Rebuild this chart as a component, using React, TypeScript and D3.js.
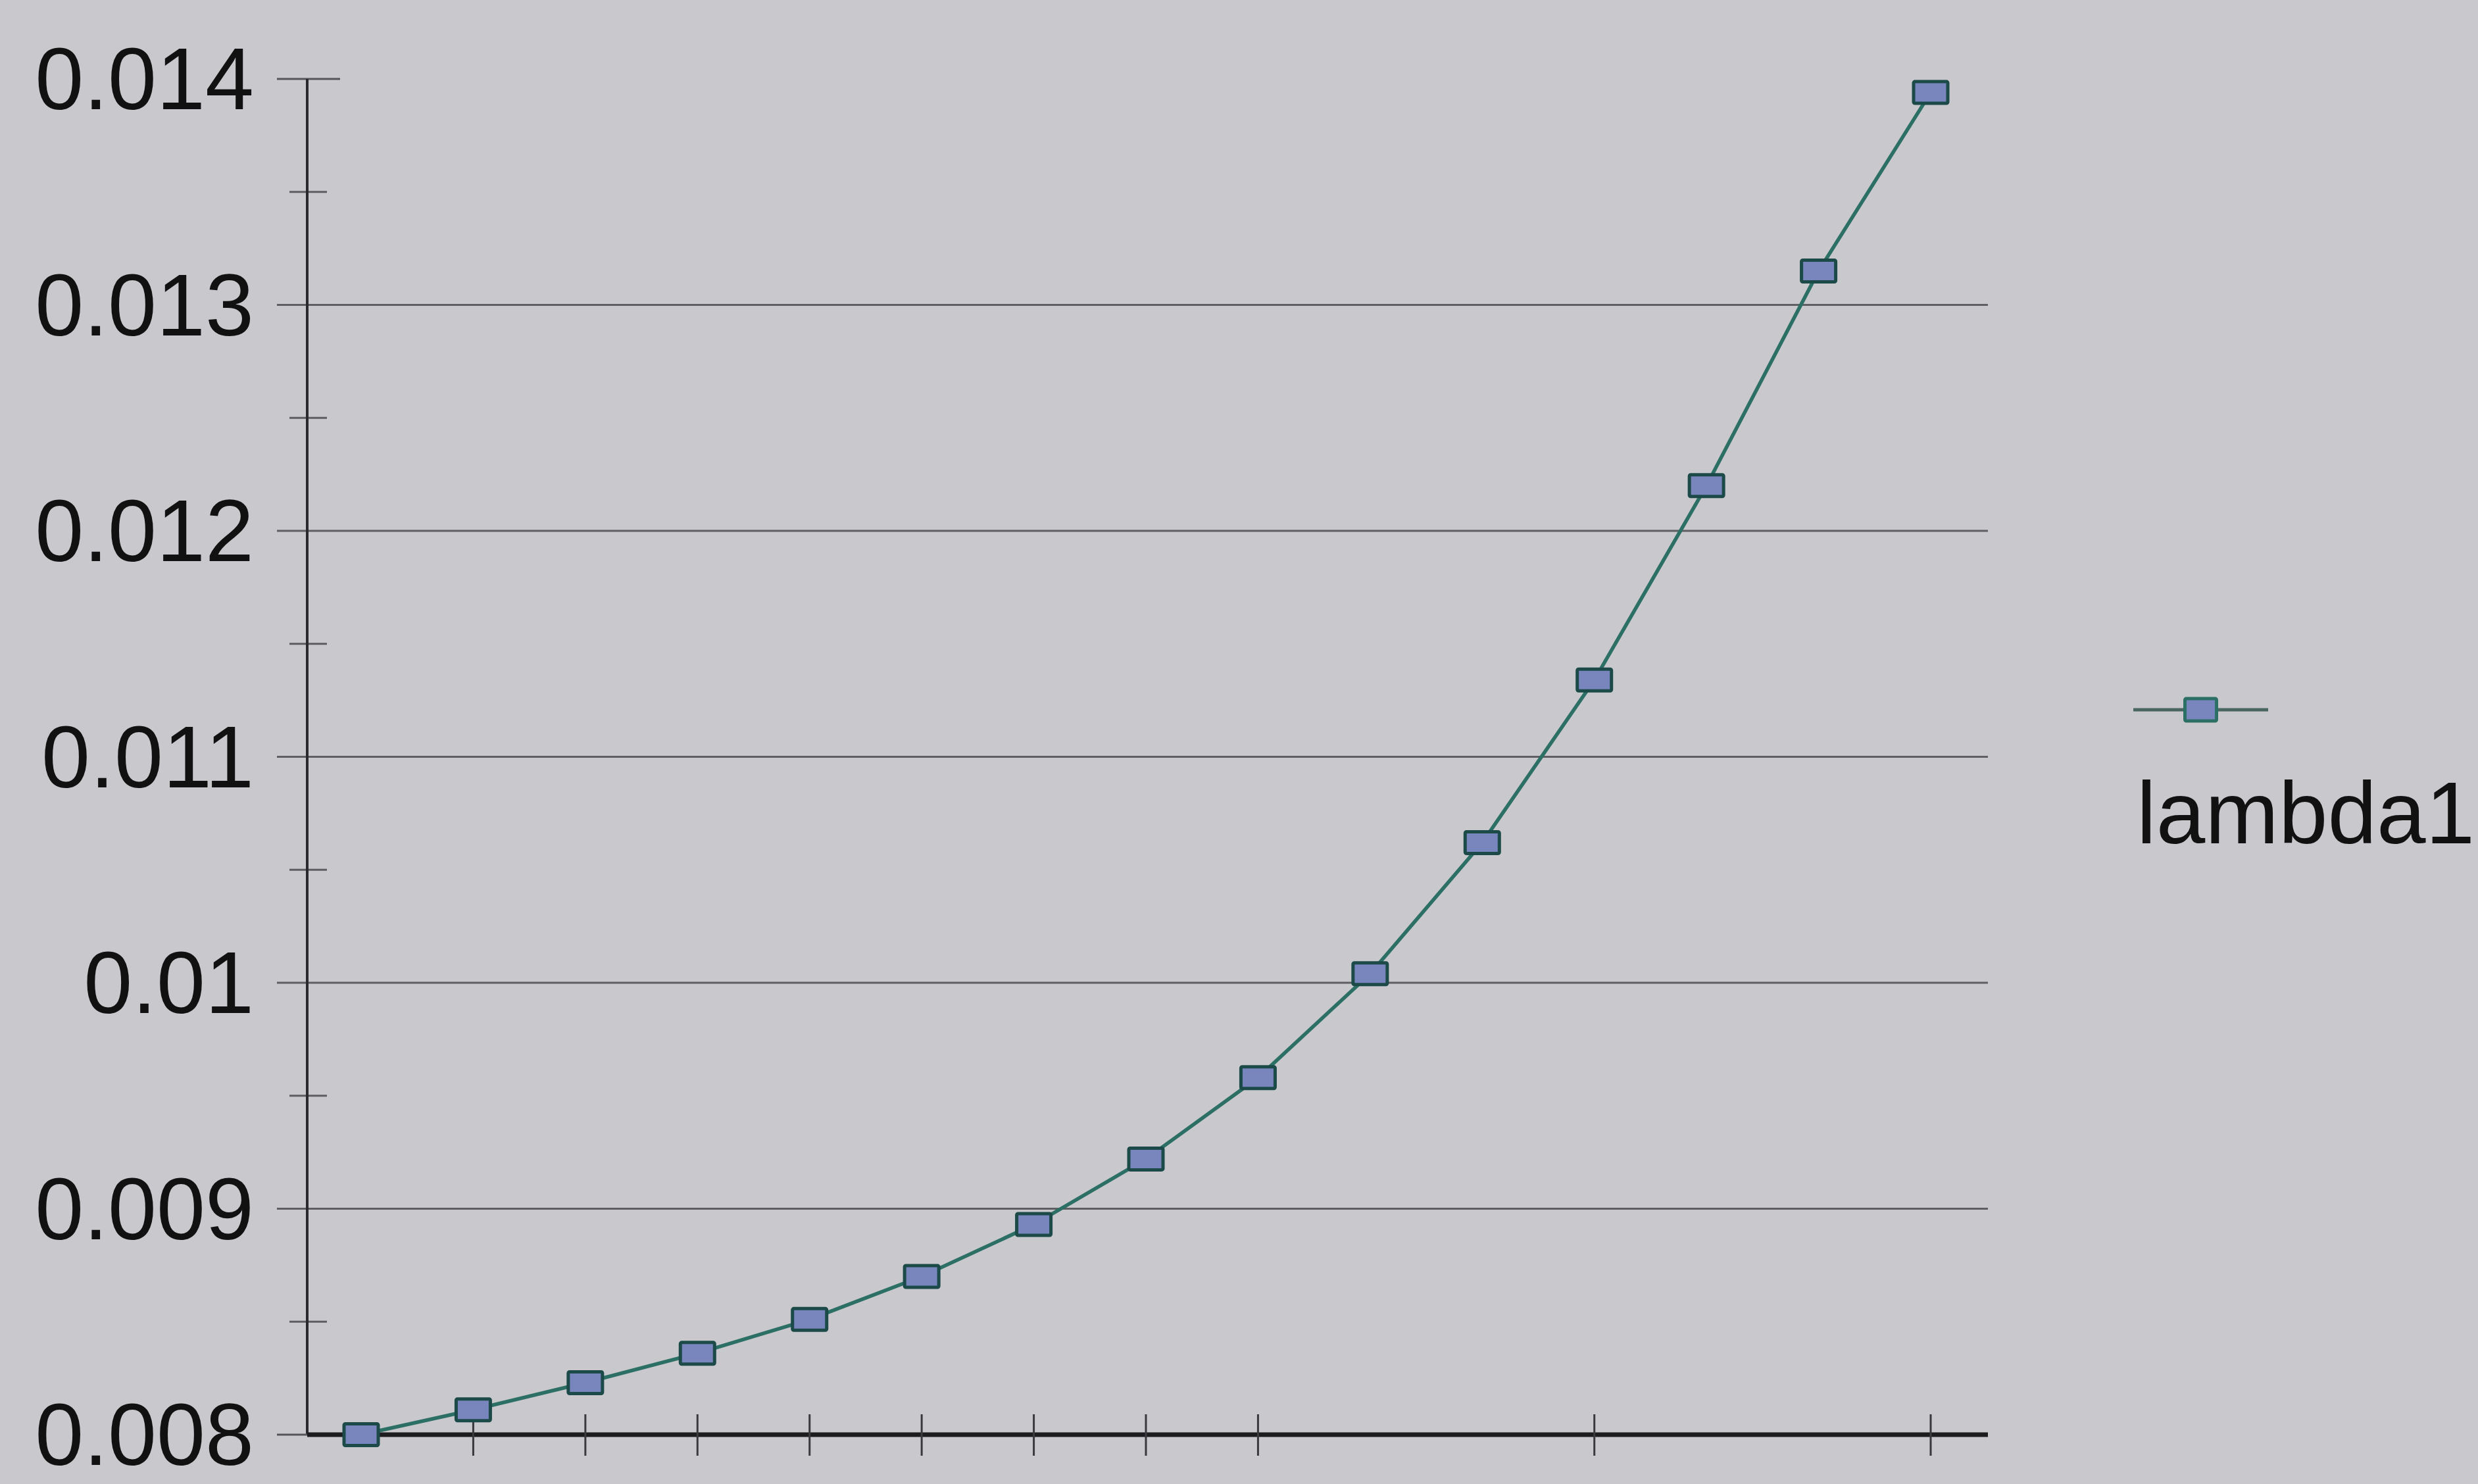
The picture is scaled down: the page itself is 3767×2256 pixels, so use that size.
import React from "react";
import * as d3 from "d3";

const W = 3767;
const H = 2256;

// data
const xIndex = [0, 1, 2, 3, 4, 5, 6, 7, 8, 9, 10, 11, 12, 13, 14];
const lambda1 = [
  0.008, 0.00811, 0.00823, 0.00836, 0.00851, 0.0087, 0.00893, 0.00922,
  0.00958, 0.01004, 0.01062, 0.01134, 0.0122, 0.01315, 0.01394,
];
const yMajorTicks = [0.008, 0.009, 0.01, 0.011, 0.012, 0.013, 0.014];
const yTickLabels = ["0.008", "0.009", "0.01", "0.011", "0.012", "0.013", "0.014"];
const yMinorTicks = [0.0085, 0.0095, 0.0105, 0.0115, 0.0125, 0.0135];
const xTickIdx = [1, 2, 3, 4, 5, 6, 7, 8, 11, 14];
const seriesName = "lambda1";

export default function App() {
  const axisX = 467;
  const plotRight = 3022;
  const y = d3.scaleLinear().domain([0.008, 0.014]).range([2181, 120]);
  const x = d3.scaleLinear().domain([0, 14]).range([549, 2935]);
  const line = d3
    .line<number>()
    .x((_, i) => x(xIndex[i]))
    .y((d) => y(d));

  const lineColor = "#2c6f64";
  const markerStroke = "#1b4a48";
  const markerFill = "#7886bd";
  const mw = 52;
  const mh = 33;
  const font = "'Liberation Sans', Arial, sans-serif";

  const legendY = 1079;
  const legendX1 = 3243;
  const legendX2 = 3448;

  return (
    <svg
      width={W}
      height={H}
      style={{ position: "absolute", left: 0, top: 0, display: "block" }}
    >
      <rect x={0} y={0} width={W} height={H} fill="#c9c8cd" />

      {/* gridlines */}
      {yMajorTicks.slice(1, -1).map((t) => (
        <line
          key={"g" + t}
          x1={421}
          x2={plotRight}
          y1={y(t)}
          y2={y(t)}
          stroke="#5f5e63"
          strokeWidth={3}
        />
      ))}
      {/* top major tick */}
      <line x1={421} x2={517} y1={y(0.014)} y2={y(0.014)} stroke="#55545a" strokeWidth={3} />
      {/* minor y ticks */}
      {yMinorTicks.map((t) => (
        <line
          key={"m" + t}
          x1={440}
          x2={497}
          y1={y(t)}
          y2={y(t)}
          stroke="#5e5d62"
          strokeWidth={3}
        />
      ))}
      {/* y axis */}
      <line x1={axisX} x2={axisX} y1={y(0.014)} y2={y(0.008)} stroke="#2a2a2e" strokeWidth={4} />
      {/* bottom-left tick */}
      <line x1={421} x2={axisX} y1={y(0.008)} y2={y(0.008)} stroke="#55545a" strokeWidth={3} />
      {/* x axis */}
      <line x1={axisX} x2={plotRight} y1={y(0.008)} y2={y(0.008)} stroke="#1c1c1f" strokeWidth={7} />
      {xTickIdx.map((i) => (
        <line
          key={"xt" + i}
          x1={x(i)}
          x2={x(i)}
          y1={y(0.008) - 31}
          y2={y(0.008) + 32}
          stroke="#3a393e"
          strokeWidth={3}
        />
      ))}

      {/* y tick labels */}
      {yMajorTicks.map((t, i) => (
        <text
          key={"l" + t}
          x={386}
          y={y(t) + 46}
          textAnchor="end"
          fontFamily={font}
          fontSize={133}
          fill="#111"
        >
          {yTickLabels[i]}
        </text>
      ))}

      {/* series */}
      <path d={line(lambda1) || ""} fill="none" stroke={lineColor} strokeWidth={5.5} />
      {lambda1.map((v, i) => (
        <rect
          key={"p" + i}
          x={x(xIndex[i]) - mw / 2}
          y={y(v) - mh / 2}
          width={mw}
          height={mh}
          fill={markerFill}
          stroke={markerStroke}
          strokeWidth={5}
          rx={2}
        />
      ))}

      {/* legend */}
      <line x1={legendX1} x2={legendX2} y1={legendY} y2={legendY} stroke="#4a6662" strokeWidth={5} />
      <rect
        x={(legendX1 + legendX2) / 2 - 24}
        y={legendY - 17}
        width={48}
        height={34}
        fill={markerFill}
        stroke={lineColor}
        strokeWidth={5}
        rx={2}
      />
      <text
        x={3248}
        y={1282}
        fontFamily={font}
        fontSize={134}
        fill="#111"
      >
        {seriesName}
      </text>
    </svg>
  );
}
